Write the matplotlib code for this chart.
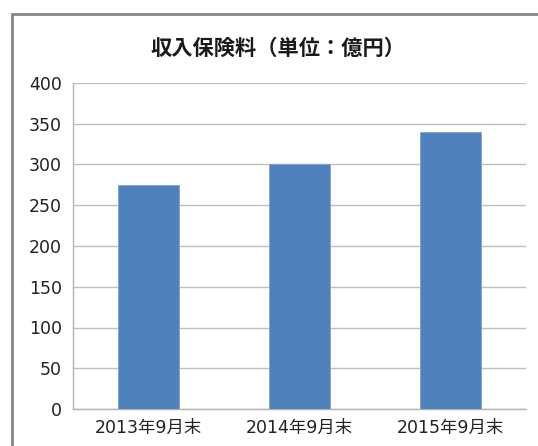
import matplotlib
matplotlib.use('Agg')
import matplotlib.pyplot as plt
import matplotlib.patches as patches

# data
categories = ['2013年9月末', '2014年9月末', '2015年9月末']
values = [275, 300, 340]
yticks = [0, 50, 100, 150, 200, 250, 300, 350, 400]
title = '収入保険料（単位：億円）'

plt.rcParams['font.family'] = ['DejaVu Sans', 'Noto Sans CJK JP']

fig = plt.figure(figsize=(5.38, 4.46), dpi=100)
fig.patch.set_facecolor('white')

# outer chart frame (runs off the right and bottom of the image)
frame = patches.Rectangle((12 / 538, -0.1), 1.2, 1 - 14 / 446 + 0.1,
                          transform=fig.transFigure, fill=False,
                          edgecolor='#868686', linewidth=2)
fig.add_artist(frame)

ax = fig.add_axes([73 / 538, 1 - 409 / 446, (526 - 73) / 538, (409 - 83) / 446])

x = list(range(len(categories)))
ax.bar(x, values, width=0.4, color='#4f81bd', edgecolor='#7ea3d3',
       linewidth=0.6, zorder=3)

ax.set_xlim(-0.5, len(categories) - 0.5)
ax.set_ylim(0, 400)
ax.set_yticks(yticks)
ax.set_yticklabels([str(v) for v in yticks], family='DejaVu Sans',
                   fontsize=12.5)
ax.set_xticks(x)
ax.set_xticklabels(categories, family=['DejaVu Sans', 'Noto Sans CJK JP'],
                   fontsize=12.5)

ax.grid(axis='y', color='#bfbfbf', linewidth=1, zorder=0)
ax.set_axisbelow(True)
for side in ['top', 'right']:
    ax.spines[side].set_visible(False)
for side in ['left', 'bottom']:
    ax.spines[side].set_color('#b3b3b3')
    ax.spines[side].set_linewidth(1)

ax.tick_params(axis='both', length=0, colors='#222222')
ax.tick_params(axis='y', pad=8)
ax.tick_params(axis='x', pad=7)

fig.text(278 / 538, 1 - 48 / 446, title, ha='center', va='center',
         fontsize=15.3, fontweight='bold', color='#1a1a1a',
         family=['Noto Sans CJK JP', 'DejaVu Sans'])

fig.savefig('out.png', dpi=100)
